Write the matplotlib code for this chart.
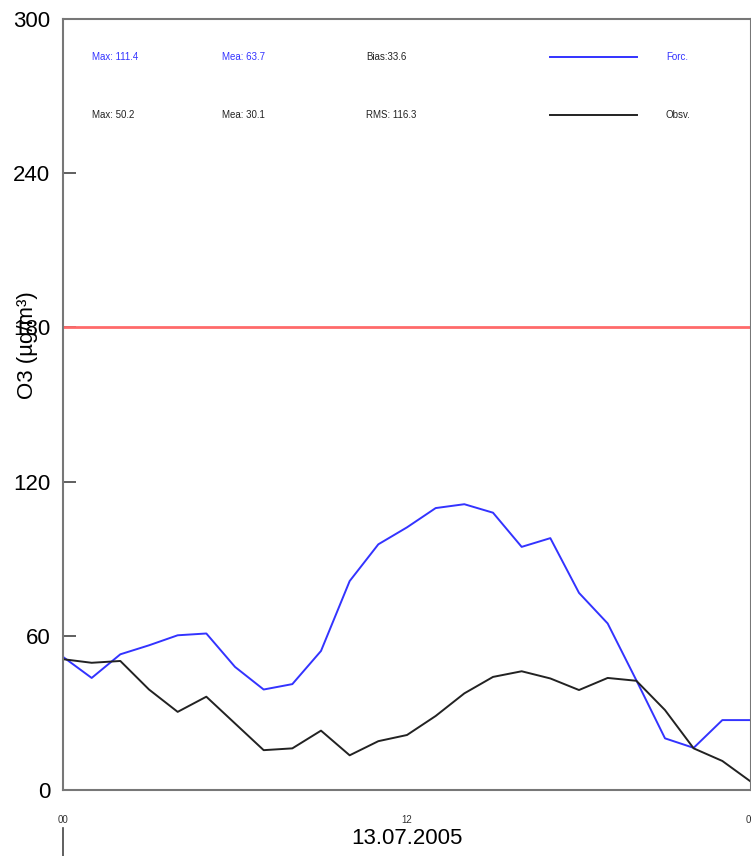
import numpy as np
import matplotlib
matplotlib.use('Agg')
import matplotlib.pyplot as plt

# hourly values for 13.07.2005 (00 .. 24)
hours = list(range(25))
forecast = [51.8, 43.6, 52.8, 56.3, 60.2, 60.9, 47.9, 39.1, 41.2, 54.1, 81.3, 95.6,
            102.2, 109.7, 111.2, 107.9, 94.6, 98.0, 76.7, 64.8, 42.7, 20.1, 16.4, 27.2, 27.2]
observed = [50.9, 49.5, 50.2, 39.1, 30.4, 36.3, 25.9, 15.5, 16.2, 23.1, 13.5, 19.0,
            21.4, 28.8, 37.6, 44.0, 46.2, 43.4, 38.9, 43.6, 42.5, 31.1, 16.2, 11.3, 3.2]
threshold = 180
y_ticks = [0, 60, 120, 180, 240, 300]
x_ticks = [0, 12, 24]
x_tick_labels = ['00', '12', '00']
forc_stats = ['Max: 111.4', 'Mea: 63.7', 'Bias:33.6']
obs_stats = ['Max: 50.2', 'Mea: 30.1', 'RMS: 116.3']

plt.rcParams['font.family'] = ['Liberation Sans', 'DejaVu Sans']

fig = plt.figure(figsize=(7.51, 8.56), dpi=100)
ax = fig.add_axes([63 / 751, 1 - 790 / 856, 688 / 751, 771 / 856])

ax.axhline(threshold, color='#ff6a6a', linewidth=2)
ax.plot(hours, forecast, color='#3333ff', linewidth=1.4)
ax.plot(hours, observed, color='#222222', linewidth=1.4)

ax.set_xlim(0, 24)
ax.set_ylim(0, 300)
ax.set_yticks(y_ticks)
ax.set_yticklabels([str(v) for v in y_ticks], fontsize=16)
ax.tick_params(axis='y', direction='in', length=9, width=1.2, color='#444444', pad=9)
ax.set_xticks(x_ticks)
ax.set_xticklabels(x_tick_labels, fontsize=7, color='#333333')
ax.tick_params(axis='x', length=0, pad=18)
for s in ax.spines.values():
    s.set_color('#777777')
    s.set_linewidth(1.5)

fig.text(27 / 751, 1 - 345 / 856, 'O3 (µg/m³)', rotation=90, fontsize=16,
         ha='center', va='center')

# statistics block
cols = [92, 222, 366]
for x, t in zip(cols, forc_stats):
    fig.text(x / 751, 1 - 57 / 856, t, fontsize=7, color='#3333ff' if 'Bias' not in t else '#222222',
             va='center', ha='left')
for x, t in zip(cols, obs_stats):
    fig.text(x / 751, 1 - 115 / 856, t, fontsize=7, color='#222222', va='center', ha='left')
fig.add_artist(plt.Line2D([550 / 751, 637 / 751], [1 - 57 / 856, 1 - 57 / 856], color='#3333ff', linewidth=1.4))
fig.add_artist(plt.Line2D([550 / 751, 637 / 751], [1 - 115 / 856, 1 - 115 / 856], color='#222222', linewidth=1.4))
fig.text(666 / 751, 1 - 57 / 856, 'Forc.', fontsize=7, color='#3333ff', va='center')
fig.text(666 / 751, 1 - 115 / 856, 'Obsv.', fontsize=7, color='#222222', va='center')

# day separator and date label
fig.add_artist(plt.Line2D([63 / 751, 63 / 751], [0, 1 - 828 / 856], color='#444444', linewidth=1.2))
fig.text(407 / 751, 1 - 838 / 856, '13.07.2005', fontsize=16, ha='center', va='center')

fig.savefig('out.png', dpi=100)
